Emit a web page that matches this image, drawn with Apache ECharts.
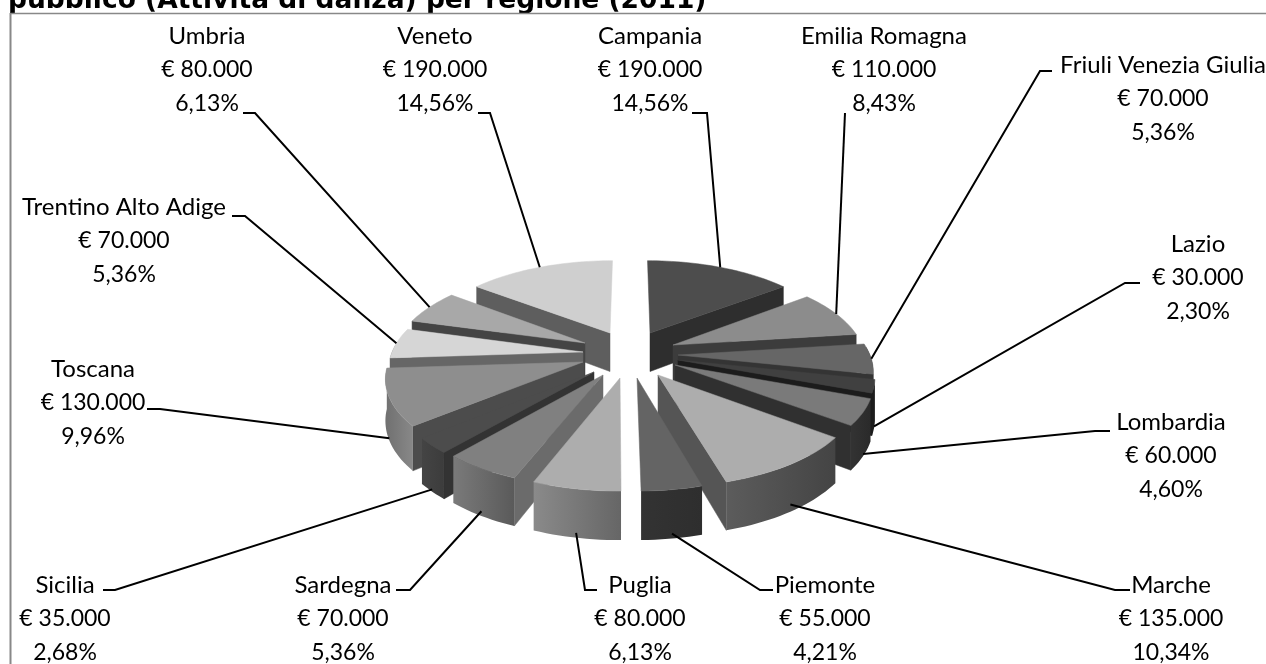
<!DOCTYPE html>
<html><head><meta charset="utf-8">
<style>html,body{margin:0;padding:0;background:#fff;overflow:hidden}#c{width:1266px;height:664px}</style>
<script src="https://cdn.jsdelivr.net/npm/echarts@6/dist/echarts.min.js"></script>
</head><body><div id="c"></div>
<script>
// ---- data
const regions = ['Campania','Emilia Romagna','Friuli Venezia Giulia','Lazio','Lombardia','Marche','Piemonte','Puglia','Sardegna','Sicilia','Toscana','Trentino Alto Adige','Umbria','Veneto'];
const amounts = [190000,110000,70000,30000,60000,135000,55000,80000,70000,35000,130000,70000,80000,190000];
const percents = ['14,56%','8,43%','5,36%','2,30%','4,60%','10,34%','4,21%','6,13%','5,36%','2,68%','9,96%','5,36%','6,13%','14,56%'];
const titleText = 'pubblico (Attività di danza) per regione (2011)';

// ---- style and layout (not data)
const topColors  = ['#4d4d4d','#8c8c8c','#666666','#404040','#7a7a7a','#adadad','#646464','#adadad','#808080','#4c4c4c','#8e8e8e','#d6d6d6','#a8a8a8','#cfcfcf'];
const sideColors = ['#2e2e2e','#3c3c3c','#343434','#1c1c1c','#303030','#555555','#333333','#6a6a6a','#6b6b6b','#333333','#4c4c4c','#666666','#444444','#5e5e5e'];
const outerLeft  = ['#2e2e2e','#3c3c3c','#343434','#1c1c1c','#333333','#5c5c5c','#333333','#8a8a8a','#7a7a7a','#444444','#707070','#666666','#444444','#5e5e5e'];
const outerRight = ['#2e2e2e','#3c3c3c','#343434','#1c1c1c','#2a2a2a','#444444','#2e2e2e','#666666','#5a5a5a','#3c3c3c','#888888','#666666','#444444','#5e5e5e'];
const apexes = [[650,333],[673,345],[678,355],[678,360],[675,365],[658,375],[637,378],[620,378],[603,375],[594,372],[583,362],[583,352],[585,343],[610,333]];
const labelCentres = [[650,70],[884,70],[1163,99],[1198,278],[1171,456],[1171,619],[825,619],[640,619],[343,619],[65,619],[93,403],[124,241],[207,70],[435,70]];
const leaderStart = [[692,113],[845,113],[1052,71],[1140,283],[1110,431],[1130,590],[773,590],[597,590],[396,590],[103,590],[147,409],[232,216],[243,113],[478,113]];
const leaderElbow = [[707,113],[845,113],[1040,71],[1125,283],[1095,431],[1115,590],[760,590],[585,590],[410,590],[115,590],[160,409],[245,216],[255,113],[490,113]];
const leaderDrop  = [0,0,0,0.95,0.95,0.85,0.9,0.9,0.9,0.95,0.95,0,0,0];

const CX=630, CY=355, R=192, P=0.000766, Q=0.463, H=40;
const total = amounts.reduce((a,b)=>a+b,0);
let cum=0;
const spans = amounts.map(v=>{const a=cum/total*Math.PI*2; cum+=v; return [a,cum/total*Math.PI*2];});

function project(u,v){const s=1/(1-P*v);return {x:CX+u*s,y:CY+Q*v*s,s};}
function unproject(x,y){const t=(y-CY)/Q;const v=t/(1+P*t);return [(x-CX)*(1-P*v),v];}
function arcPt(i,a){const [u0,v0]=unproject(apexes[i][0],apexes[i][1]);return project(u0+R*Math.sin(a),v0-R*Math.cos(a));}
function down(p){return [p.x,p.y+H*p.s];}
function aboveLine(A,B,C){
  if(Math.abs(B.x-A.x)<Math.abs(B.y-A.y)*0.12) return false; // edge-on walls stay hidden
  const y=A.y+(B.y-A.y)*(C.x-A.x)/(B.x-A.x);
  return C.y<y;
}
function wall(A,B,fill){return {type:'polygon',shape:{points:[[A.x,A.y],[B.x,B.y],down(B),down(A)]},style:{fill,stroke:fill,lineWidth:0.5}};}

function renderSlice(params,api){
  const i=api.value(0);
  const [a0,a1]=spans[i];
  const A=project(...unproject(apexes[i][0],apexes[i][1]));
  const P0=arcPt(i,a0),P1=arcPt(i,a1);
  const children=[];
  if(aboveLine(A,P0,P1)) children.push(wall(A,P0,sideColors[i]));
  if(aboveLine(A,P1,P0)) children.push(wall(A,P1,sideColors[i]));
  const lo=Math.max(a0,Math.PI/2-0.09),hi=Math.min(a1,Math.PI*1.5+0.09);
  if(hi>lo){
    const tops=[],bots=[];
    const n=Math.max(2,Math.ceil((hi-lo)/0.03));
    for(let k=0;k<=n;k++){const p=arcPt(i,lo+(hi-lo)*k/n);tops.push([p.x,p.y]);bots.unshift(down(p));}
    children.push({type:'polygon',shape:{points:tops.concat(bots)},style:{fill:{type:'linear',x:0,y:0,x2:1,y2:0,colorStops:[{offset:0,color:outerLeft[i]},{offset:1,color:outerRight[i]}]}}});
  }
  const pts=[[A.x,A.y]];
  const n=Math.max(2,Math.ceil((a1-a0)/0.03));
  for(let k=0;k<=n;k++){const p=arcPt(i,a0+(a1-a0)*k/n);pts.push([p.x,p.y]);}
  children.push({type:'polygon',shape:{points:pts},style:{fill:topColors[i],stroke:topColors[i],lineWidth:0.5}});
  return {type:'group',children};
}
function renderLabel(params,api){
  const i=api.value(0);
  const mid=arcPt(i,(spans[i][0]+spans[i][1])/2);
  const end=[mid.x,mid.y+H*mid.s*leaderDrop[i]];
  const [cx,cy]=labelCentres[i];
  const val='€ '+amounts[i].toLocaleString('de-DE');
  const nameFont='24px Lato', numFont='23px Lato';
  return {type:'group',children:[
    {type:'polyline',shape:{points:[leaderStart[i],leaderElbow[i],end]},style:{fill:null,stroke:'#000',lineWidth:2}},
    {type:'text',style:{text:regions[i],x:cx,y:cy-33.5,align:'center',verticalAlign:'middle',font:nameFont,fill:'#000'}},
    {type:'text',style:{text:val,x:cx,y:cy,align:'center',verticalAlign:'middle',font:numFont,fill:'#000'}},
    {type:'text',style:{text:percents[i],x:cx,y:cy+33.5,align:'center',verticalAlign:'middle',font:numFont,fill:'#000'}}
  ]};
}
const order = regions.map((_,i)=>i).sort((a,b)=>{
  const m=i=>(spans[i][0]+spans[i][1])/2;
  return -Math.cos(m(a))+Math.cos(m(b));
});
const sliceRows = order.map(i=>[i,amounts[i]]);
const labelRows = regions.map((n,i)=>[i,amounts[i]]);

const chart=echarts.init(document.getElementById('c'),null,{renderer:'canvas'});
chart.setOption({
  animation:false,
  backgroundColor:'#fff',
  title:{text:titleText,left:8,top:-12,padding:0,z:0,textStyle:{fontFamily:'DejaVu Sans',fontWeight:'bold',fontSize:26.5,color:'#000'}},
  graphic:[
    {type:'rect',shape:{x:0,y:14,width:1266,height:650},style:{fill:'#fff'},z:1},
    {type:'line',shape:{x1:11,y1:13.5,x2:1266,y2:13.5},style:{stroke:'#888',lineWidth:1.5},z:1},
    {type:'line',shape:{x1:10.5,y1:13,x2:10.5,y2:664},style:{stroke:'#888',lineWidth:2},z:1}
  ],
  series:[
    {type:'custom',coordinateSystem:'none',renderItem:renderSlice,data:sliceRows,z:2,silent:true,clip:false},
    {type:'custom',coordinateSystem:'none',renderItem:renderLabel,data:labelRows,z:3,silent:true,clip:false}
  ]
});
</script></body></html>
